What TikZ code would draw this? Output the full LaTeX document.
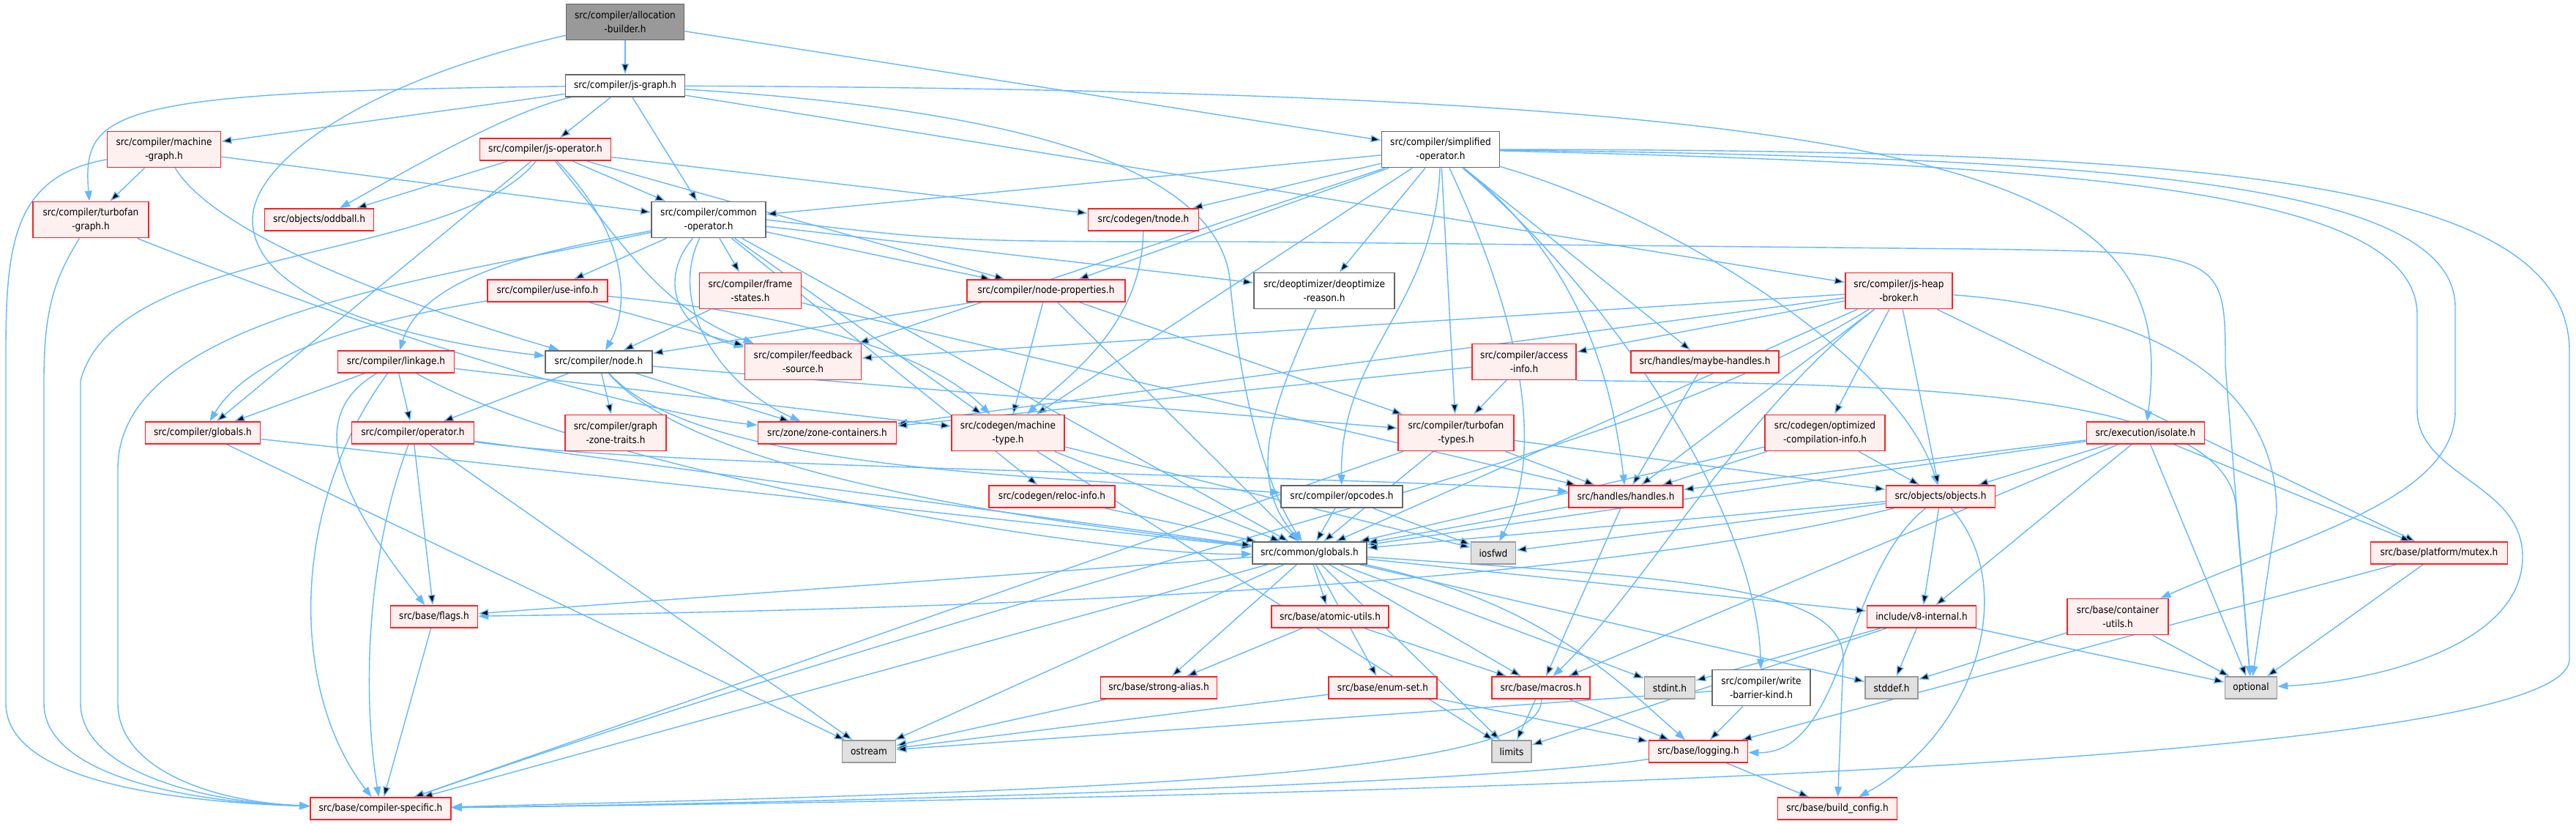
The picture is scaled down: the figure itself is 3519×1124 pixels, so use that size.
\documentclass[tikz,border=0pt]{standalone}
\usepackage{fontspec}
\newfontfamily\dxfont{DejaVu Sans Condensed}
\usetikzlibrary{arrows.meta}
\pgfdeclarelayer{edges}
\pgfsetlayers{edges,main}
\definecolor{inclblue}{HTML}{63B8FF}
\definecolor{partline}{HTML}{FF2020}
\definecolor{partfill}{HTML}{FFF0F0}
\definecolor{docline}{HTML}{666666}
\definecolor{rootfill}{HTML}{999999}
\definecolor{sysline}{HTML}{999999}
\definecolor{sysfill}{HTML}{E0E0E0}

\begin{document}
\begin{tikzpicture}[x=1pt, y=-1pt,
        font=\dxfont\fontsize{13.5}{19}\selectfont,
        hfile/.style={rectangle, line width=1.8pt, inner sep=0pt, align=center, minimum height=30},
        hdouble/.style={minimum height=49},
        hpart/.style={hfile, draw=partline, fill=partfill},
        hdoc/.style={hfile, draw=docline, fill=white},
        hroot/.style={hfile, draw=docline, fill=rootfill},
        hsys/.style={hfile, draw=sysline, fill=sysfill},
        incl/.style={-{Triangle[length=14pt, width=10pt]}, line width=1.4pt, draw=inclblue}
    ]
    \useasboundingbox (0,0) rectangle (3519,1124);
    \node[hroot, hdouble, minimum width=161] (alloc) at (854,30) {src/compiler/allocation\\-builder.h};
    \node[hdoc, minimum width=163] (jsgraph) at (854,117) {src/compiler/js-graph.h};
    \node[hpart, hdouble, minimum width=155] (mgraph) at (224,204) {src/compiler/machine\\-graph.h};
    \node[hpart, minimum width=179] (jsop) at (745,204) {src/compiler/js-operator.h};
    \node[hdoc, hdouble, minimum width=161] (simpop) at (1968,204) {src/compiler/simplified\\-operator.h};
    \node[hpart, hdouble, minimum width=158] (tfgraph) at (124,300) {src/compiler/turbofan\\-graph.h};
    \node[hpart, minimum width=149] (oddball) at (436,300) {src/objects/oddball.h};
    \node[hdoc, hdouble, minimum width=156] (commonop) at (968,300) {src/compiler/common\\-operator.h};
    \node[hpart, minimum width=151] (tnode) at (1562,300) {src/codegen/tnode.h};
    \node[hpart, hdouble, minimum width=139] (framest) at (1025,397) {src/compiler/frame\\-states.h};
    \node[hpart, minimum width=164] (useinfo) at (748,397) {src/compiler/use-info.h};
    \node[hpart, minimum width=216] (nodeprop) at (1429,397) {src/compiler/node-properties.h};
    \node[hdoc, hdouble, minimum width=192] (deopt) at (1809,397) {src/deoptimizer/deoptimize\\-reason.h};
    \node[hpart, hdouble, minimum width=146] (broker) at (2594,397) {src/compiler/js-heap\\-broker.h};
    \node[hpart, minimum width=159] (linkage) at (541,494) {src/compiler/linkage.h};
    \node[hdoc, minimum width=146] (nodeh) at (818,494) {src/compiler/node.h};
    \node[hpart, hdouble, minimum width=159] (fbsrc) at (1097,494) {src/compiler/feedback\\-source.h};
    \node[hpart, hdouble, minimum width=142] (access) at (2082,494) {src/compiler/access\\-info.h};
    \node[hpart, minimum width=202] (maybeh) at (2329,494) {src/handles/maybe-handles.h};
    \node[hpart, minimum width=157] (cglobals) at (277,591) {src/compiler/globals.h};
    \node[hpart, minimum width=167] (operator) at (564,591) {src/compiler/operator.h};
    \node[hpart, hdouble, minimum width=138] (zonetraits) at (841,591) {src/compiler/graph\\-zone-traits.h};
    \node[hpart, minimum width=189] (zonecont) at (1130,591) {src/zone/zone-containers.h};
    \node[hpart, hdouble, minimum width=154] (mtype) at (1377,591) {src/codegen/machine\\-type.h};
    \node[hpart, hdouble, minimum width=158] (tftypes) at (1989,591) {src/compiler/turbofan\\-types.h};
    \node[hpart, hdouble, minimum width=164] (optinfo) at (2493,591) {src/codegen/optimized\\-compilation-info.h};
    \node[hpart, minimum width=161] (isolate) at (2931,591) {src/execution/isolate.h};
    \node[hpart, minimum width=172] (reloc) at (1437,678) {src/codegen/reloc-info.h};
    \node[hdoc, minimum width=166] (opcodes) at (1833,678) {src/compiler/opcodes.h};
    \node[hpart, minimum width=156] (handles) at (2221,678) {src/handles/handles.h};
    \node[hpart, minimum width=149] (objects) at (2651,678) {src/objects/objects.h};
    \node[hdoc, minimum width=156] (globals) at (1789,755) {src/common/globals.h};
    \node[hsys, minimum width=61] (iosfwd) at (2040,755) {iosfwd};
    \node[hpart, minimum width=187] (mutex) at (3332,755) {src/base/platform/mutex.h};
    \node[hpart, minimum width=119] (flags) at (593,842) {src/base/flags.h};
    \node[hpart, minimum width=160] (atomic) at (1817,842) {src/base/atomic-utils.h};
    \node[hpart, minimum width=149] (v8int) at (2625,842) {include/v8-internal.h};
    \node[hpart, hdouble, minimum width=138] (contutils) at (2893,842) {src/base/container\\-utils.h};
    \node[hpart, minimum width=159] (stralias) at (1583,939) {src/base/strong-alias.h};
    \node[hpart, minimum width=148] (enumset) at (1889,939) {src/base/enum-set.h};
    \node[hpart, minimum width=134] (macros) at (2105,939) {src/base/macros.h};
    \node[hsys, minimum width=69] (stdint) at (2281,939) {stdint.h};
    \node[hdoc, hdouble, minimum width=134] (wbkind) at (2406,939) {src/compiler/write\\-barrier-kind.h};
    \node[hsys, minimum width=72] (stddef) at (2584,939) {stddef.h};
    \node[hsys, minimum width=71] (optional) at (3075,939) {optional};
    \node[hsys, minimum width=73] (ostream) at (1187,1026) {ostream};
    \node[hsys, minimum width=54] (limits) at (2065,1026) {limits};
    \node[hpart, minimum width=135] (logging) at (2320,1026) {src/base/logging.h};
    \node[hpart, minimum width=192] (cspec) at (520,1104) {src/base/compiler-specific.h};
    \node[hpart, minimum width=163] (bconfig) at (2510,1104) {src/base/build\_config.h};

    \begin{pgfonlayer}{edges}
    \fill[white] (0,0) rectangle (3519,1124);
    \draw[incl] (alloc) edge (jsgraph) edge (simpop);
    \draw[incl] (alloc) .. controls (500,110) and (345,220) .. (345,300) .. controls (345,420) and (600,470) .. (nodeh);
    \draw[incl] (jsgraph) edge (mgraph) edge (jsop) edge (commonop) edge (broker);
    \draw[incl] (jsgraph) .. controls (700,150) and (560,230) .. (oddball);
    \draw[incl] (jsgraph) .. controls (150,125) and (112,150) .. (tfgraph);
    \draw[incl] (jsgraph) .. controls (2750,125) and (2975,250) .. (isolate);
    \draw[incl] (jsgraph) .. controls (1400,150) and (1660,230) .. (1680,380) .. controls (1690,500) and (1720,650) .. (globals);
    \draw[incl] (mgraph) edge (tfgraph) edge (commonop);
    \draw[incl] (mgraph) .. controls (300,330) and (600,430) .. (nodeh);
    \draw[incl] (mgraph) .. controls (20,240) and (8,330) .. (8,480) -- (8,960) .. controls (8,1070) and (250,1095) .. (cspec);
    \draw[incl] (jsop) edge (oddball) edge (commonop) edge (tnode) edge (nodeprop) edge (cglobals);
    \draw[incl] (jsop) .. controls (850,330) and (900,420) .. (fbsrc);
    \draw[incl] (jsop) .. controls (860,320) and (860,420) .. (nodeh);
    \draw[incl] (jsop) .. controls (620,360) and (160,330) .. (110,520) -- (110,960) .. controls (110,1050) and (270,1095) .. (cspec);
    \draw[incl] (simpop) edge (commonop) edge (tnode) edge (nodeprop) edge (deopt) edge (tftypes) edge (maybeh)
        edge (fbsrc) edge (mtype);
    \draw[incl] (simpop) .. controls (1960,420) and (1830,480) .. (opcodes);
    \draw[incl] (simpop) .. controls (2060,400) and (2120,600) .. (iosfwd);
    \draw[incl] (simpop) .. controls (2150,350) and (2200,500) .. (handles);
    \draw[incl] (simpop) .. controls (2300,300) and (2600,500) .. (objects);
    \draw[incl] (simpop) .. controls (2200,400) and (2400,700) .. (wbkind);
    \draw[incl] (simpop) .. controls (2900,215) and (3354,250) .. (3354,420) -- (3354,560)
        .. controls (3354,680) and (3150,730) .. (contutils);
    \draw[incl] (simpop) .. controls (2850,225) and (3302,260) .. (3302,430) -- (3302,560)
        .. controls (3302,650) and (3446,660) .. (3446,760) .. controls (3446,880) and (3250,930) .. (optional);
    \draw[incl] (simpop) .. controls (3000,205) and (3510,240) .. (3510,480) -- (3510,900)
        .. controls (3510,1060) and (1600,1090) .. (cspec);
    \draw[incl] (tfgraph) .. controls (500,450) and (850,560) .. (zonecont);
    \draw[incl] (tfgraph) .. controls (75,380) and (60,420) .. (60,520) -- (60,960) .. controls (60,1060) and (260,1095) .. (cspec);
    \draw[incl] (commonop) edge (mtype) edge (reloc) edge (globals) edge (nodeprop) edge (deopt) edge (useinfo) edge (framest);
    \draw[incl] (commonop) .. controls (760,340) and (580,370) .. (linkage);
    \draw[incl] (commonop) .. controls (900,380) and (920,450) .. (fbsrc);
    \draw[incl] (commonop) .. controls (910,420) and (990,530) .. (zonecont);
    \draw[incl] (commonop) .. controls (600,380) and (161,430) .. (161,640) -- (161,960) .. controls (161,1050) and (290,1095) .. (cspec);
    \draw[incl] (commonop.east) .. controls (1300,330) .. (1700,330) -- (2700,340) .. controls (3040,345) .. (3040,500) -- (optional);
    \draw[incl] (tnode) .. controls (1560,450) and (1450,520) .. (mtype);
    \draw[incl] (framest) edge (nodeh) edge (handles);
    \draw[incl] (useinfo) edge (fbsrc);
    \draw[incl] (useinfo) .. controls (1000,420) and (1250,460) .. (mtype);
    \draw[incl] (useinfo) .. controls (550,430) and (350,470) .. (cglobals);
    \draw[incl] (nodeprop) edge (nodeh) edge (mtype) edge (tftypes) edge (globals);
    \draw[incl] (deopt) .. controls (1740,550) and (1700,650) .. (globals);
    \draw[incl] (broker) edge (access) edge (fbsrc) edge (zonecont) edge (optinfo) edge (handles) edge (objects) edge (mutex) edge (globals);
    \draw[incl] (broker) .. controls (2380,560) and (2250,800) .. (macros);
    \draw[incl] (broker) .. controls (2200,640) and (1600,730) .. (cspec);
    \draw[incl] (broker) .. controls (2900,420) and (3110,500) .. (3110,700) -- (optional);
    \draw[incl] (linkage) edge (cglobals) edge (operator) edge (mtype);
    \draw[incl] (linkage) .. controls (430,560) and (440,650) .. (flags);
    \draw[incl] (linkage) .. controls (390,700) and (400,950) .. (cspec);
    \draw[incl] (linkage) .. controls (800,640) and (1500,760) .. (globals);
    \draw[incl] (nodeh) edge (operator) edge (zonetraits) edge (zonecont) edge (tftypes);
    \draw[incl] (nodeh) .. controls (950,640) and (1400,650) .. (opcodes);
    \draw[incl] (nodeh) .. controls (960,660) and (1500,720) .. (globals);
    \draw[incl] (access) edge (zonecont) edge (tftypes);
    \draw[incl] (access.south east) .. controls (2600,525) and (3055,530) .. (3055,700) -- (optional);
    \draw[incl] (maybeh) edge (handles);
    \draw[incl] (cglobals) edge (globals) edge (ostream);
    \draw[incl] (operator) edge (flags) edge (ostream) edge (globals);
    \draw[incl] (operator) .. controls (500,760) and (495,950) .. (cspec);
    \draw[incl] (operator) .. controls (900,640) and (1900,650) .. (handles);
    \draw[incl] (mtype) edge (globals) edge (limits) edge (iosfwd);
    \draw[incl] (tftypes) edge (handles) edge (objects) edge (globals) edge (cspec);
    \draw[incl] (optinfo) edge (handles) edge (objects) edge (globals);
    \draw[incl] (isolate) edge (handles) edge (objects) edge (globals) edge (v8int) edge (mutex) edge (optional) edge (macros);
    \draw[incl] (reloc) edge (globals);
    \draw[incl] (opcodes) edge (globals) edge (iosfwd);
    \draw[incl] (handles) edge (globals) edge (macros);
    \draw[incl] (objects) edge (globals) edge (iosfwd) edge (v8int);
    \draw[incl] (objects) .. controls (2200,790) and (1500,830) .. (flags);
    \draw[incl] (objects) .. controls (2520,780) and (2520,1030) .. (logging);
    \draw[incl] (objects) .. controls (2760,800) and (2700,1000) .. (bconfig);
    \draw[incl] (globals) edge (flags) edge (atomic) edge (enumset) edge (stralias) edge (macros) edge (stdint)
        edge (stddef) edge (v8int) edge (ostream) edge (limits) edge (cspec);
    \draw[incl] (globals) .. controls (2100,820) and (2200,920) .. (logging);
    \draw[incl] (globals) .. controls (2300,790) and (2518,800) .. (2518,900) -- (bconfig);
    \draw[incl] (mutex) edge (logging) edge (optional);
    \draw[incl] (flags) edge (cspec);
    \draw[incl] (atomic) edge (stralias) edge (macros);
    \draw[incl] (v8int) edge (stdint) edge (stddef) edge (optional) edge (limits);
    \draw[incl] (contutils) edge (stddef) edge (optional);
    \draw[incl] (stralias) edge (ostream);
    \draw[incl] (enumset) edge (ostream) edge (logging);
    \draw[incl] (macros) edge (limits) edge (logging);
    \draw[incl] (macros) .. controls (2110,1060) and (1500,1080) .. (cspec);
    \draw[incl] (wbkind) edge (ostream) edge (logging);
    \draw[incl] (logging) edge (bconfig);
    \draw[incl] (logging) .. controls (2100,1060) and (1500,1090) .. (cspec);
    \end{pgfonlayer}
\end{tikzpicture}
\end{document}
